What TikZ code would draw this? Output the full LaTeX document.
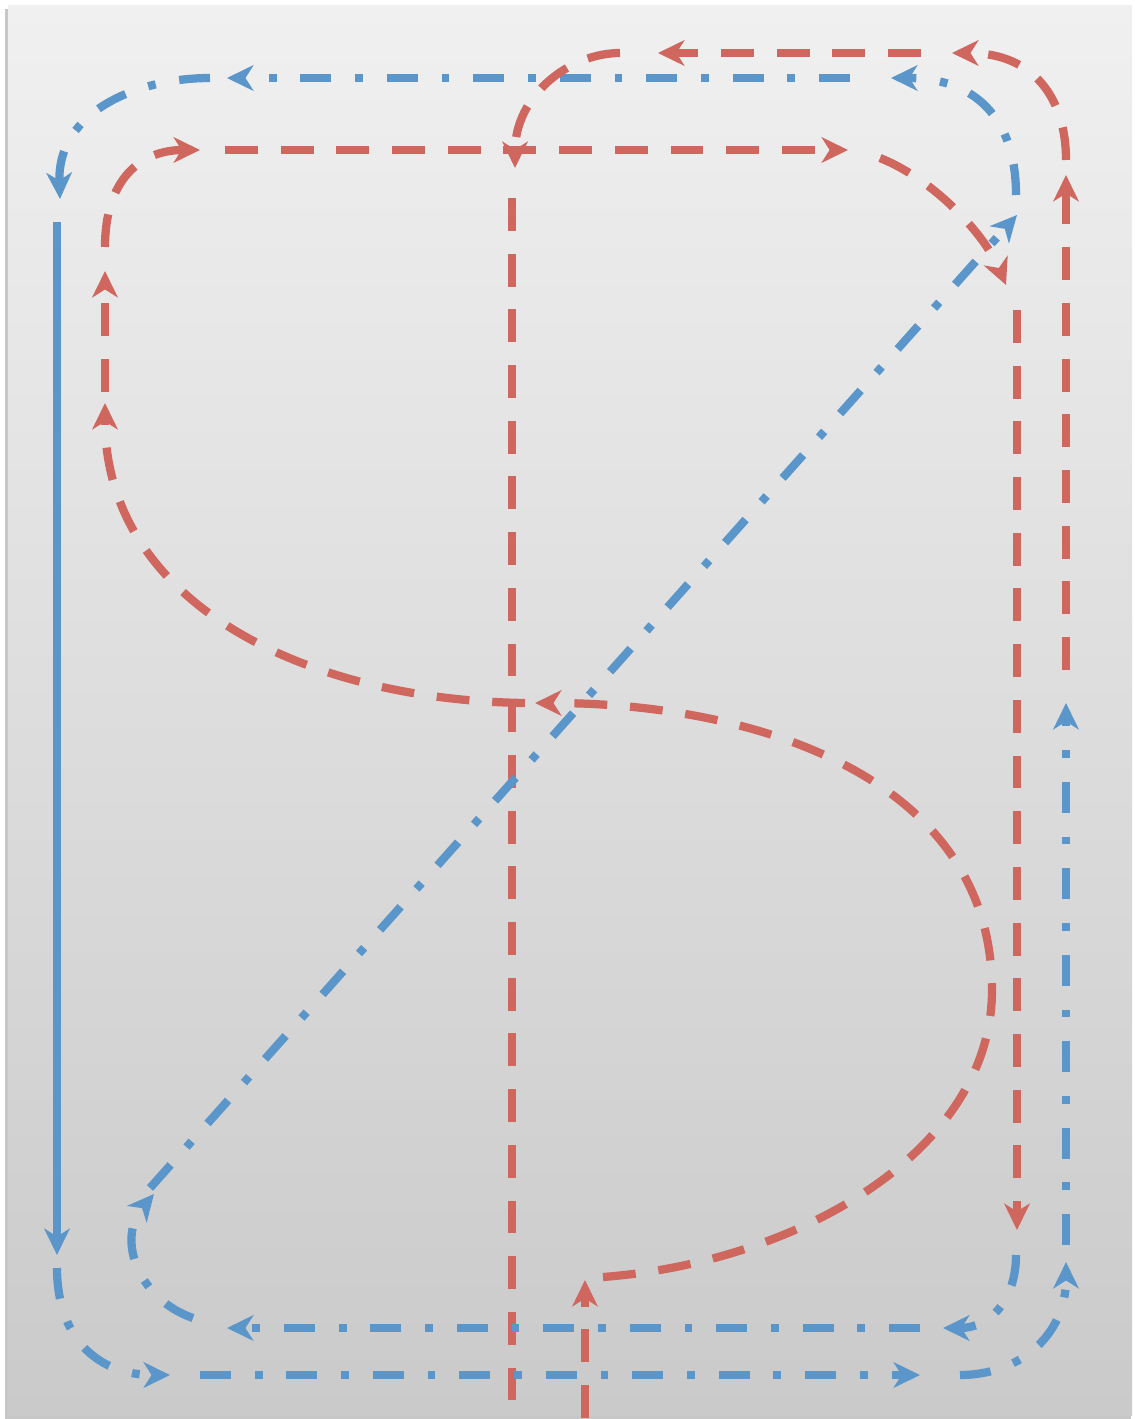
\documentclass[tikz,border=0pt]{standalone}
\usetikzlibrary{arrows.meta}
\definecolor{loopblue}{HTML}{5B96CB}
\definecolor{loopred}{HTML}{CF675F}
\definecolor{bgtop}{HTML}{F0F0F0}
\definecolor{bgbot}{HTML}{CACACA}

\begin{document}
\begin{tikzpicture}[
  x=0.02cm, y=-0.02cm,
  >={Stealth[length=15pt, width=14.5pt, inset=4.5pt]},
  blueline/.style={loopblue, line width=4.7pt},
  bluedashdot/.style={blueline, dash pattern=on 17.6pt off 13.6pt on 4.4pt off 13.6pt},
  reddash/.style={loopred, line width=4.7pt, dash pattern=on 18.7pt off 13pt},
]
\useasboundingbox (0,0) rectangle (1134,1419);

% Background
\fill[white] (0,0) rectangle (1134,1419);
\fill[black!22] (5,9) rectangle (1131,1419);
\fill[top color=bgtop, bottom color=bgbot] (8,6) rectangle (1132,1415);

% === End points ===
% blue route
\coordinate (bTRs) at (1016,195);  \coordinate (bTRe) at (891,78);
\coordinate (bTs)  at (850,78);    \coordinate (bTe)  at (227,78);
\coordinate (bTLs) at (210,78);    \coordinate (bTLe) at (60,199);
\coordinate (bLs)  at (57,222);    \coordinate (bLe)  at (57,1255);
\coordinate (bBLs) at (57,1268);   \coordinate (bBLe) at (170,1375);
\coordinate (bBs)  at (200,1375);  \coordinate (bBe)  at (920,1375);
\coordinate (bBRs) at (960,1375);  \coordinate (bBRe) at (1066,1262);
\coordinate (bRs)  at (1066,1245); \coordinate (bRe)  at (1066,703);
\coordinate (bIRs) at (1016,1255); \coordinate (bIRe) at (943,1328);
\coordinate (bIs)  at (920,1328);  \coordinate (bIe)  at (227,1328);
\coordinate (bILs) at (193,1318);  \coordinate (bILe) at (154,1194);
\coordinate (bDs)  at (150,1188);  \coordinate (bDe)  at (1017,215);

% red route
\coordinate (rUs)  at (585,1418);  \coordinate (rUe)  at (585,1280);
\coordinate (rSs)  at (603,1277);  \coordinate (rSm)  at (992,990);
\coordinate (rSe)  at (535,703);
\coordinate (rCs)  at (525,703);   \coordinate (rCe)  at (105,403);
\coordinate (rLs)  at (105,392);   \coordinate (rLe)  at (105,271);
\coordinate (rTLs) at (105,247);   \coordinate (rTLe) at (200,150);
\coordinate (rTs)  at (225,150);   \coordinate (rTe)  at (848,150);
\coordinate (rTRs) at (880,158);   \coordinate (rTRe) at (1006,285);
\coordinate (rDs)  at (1017,310);  \coordinate (rDe)  at (1017,1230);
\coordinate (rRs)  at (1066,670);  \coordinate (rRe)  at (1066,175);
\coordinate (rORs) at (1066,160);  \coordinate (rORe) at (952,53);
\coordinate (rOs)  at (921,53);    \coordinate (rOe)  at (658,53);
\coordinate (rOLs) at (620,53);    \coordinate (rOLe) at (515,168);
\coordinate (rVs)  at (512,198);   \coordinate (rVe)  at (512,1410);

% === Red middle line (below blue) ===
\draw[reddash] (rVs) -- (rVe);

% === Blue loop ===
\draw[bluedashdot, ->] (bTRs) .. controls (1016,118) and (975,78) .. (bTRe);
\draw[bluedashdot, ->] (bTs) -- (bTe);
\draw[bluedashdot, ->] (bTLs) .. controls (140,78) and (57,110) .. (bTLe);
\draw[blueline, ->] (bLs) -- (bLe);
\draw[bluedashdot, ->] (bBLs) .. controls (57,1335) and (95,1375) .. (bBLe);
\draw[bluedashdot, ->] (bBs) -- (bBe);
\draw[bluedashdot, ->] (bBRs) .. controls (1020,1375) and (1066,1335) .. (bBRe);
\draw[bluedashdot, ->] (bRs) -- (bRe);
\draw[bluedashdot, ->] (bIRs) .. controls (1016,1300) and (990,1328) .. (bIRe);
\draw[bluedashdot, ->] (bIs) -- (bIe);
\draw[bluedashdot, ->] (bILs) .. controls (140,1300) and (115,1240) .. (bILe);
\draw[bluedashdot, ->] (bDs) -- (bDe);

% === Red figure eight ===
\draw[reddash, ->] (rUs) -- (rUe);
\draw[reddash, ->] (rSs) .. controls (800,1262) and (992,1150) .. (rSm)
  .. controls (992,780) and (760,703) .. (rSe);
\draw[reddash, ->] (rCs) .. controls (300,700) and (105,600) .. (rCe);
\draw[reddash, ->] (rLs) -- (rLe);
\draw[reddash, ->] (rTLs) .. controls (105,180) and (140,150) .. (rTLe);
\draw[reddash, ->] (rTs) -- (rTe);
\draw[reddash, ->] (rTRs) .. controls (935,180) and (985,235) .. (rTRe);
\draw[reddash, ->] (rDs) -- (rDe);
\draw[reddash, ->] (rRs) -- (rRe);
\draw[reddash, ->] (rORs) .. controls (1066,100) and (1035,53) .. (rORe);
\draw[reddash, ->] (rOs) -- (rOe);
\draw[reddash, ->] (rOLs) .. controls (570,53) and (515,95) .. (rOLe);

\end{tikzpicture}
\end{document}
